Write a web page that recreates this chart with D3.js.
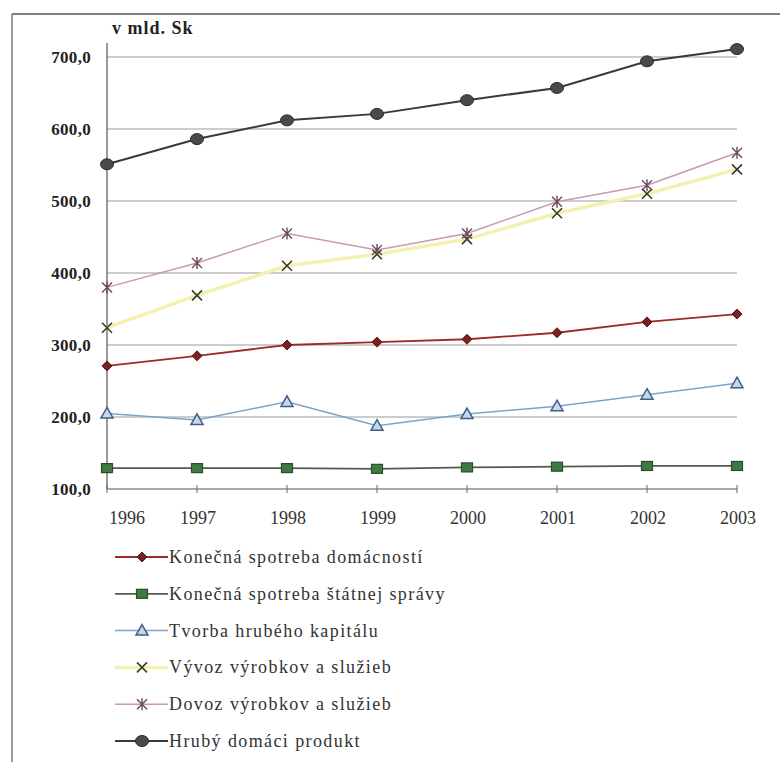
<!DOCTYPE html>
<html>
<head>
<meta charset="utf-8">
<script src="https://cdn.jsdelivr.net/npm/d3@7"></script>
<style>
  html, body { margin: 0; padding: 0; background: #fff; }
  svg { display: block; }
</style>
</head>
<body>
<svg id="chart" width="780" height="762"></svg>
<script>
// Years on the category axis
const years = ["1996", "1997", "1998", "1999", "2000", "2001", "2002", "2003"];

// Series values, mld. Sk
const domacnosti = [271, 285, 300, 304, 308, 317, 332, 343];
const statnaSprava = [129, 129, 129, 128, 130, 131, 132, 132];
const tvorbaKapitalu = [205, 196, 221, 188, 204, 215, 231, 247];
const vyvoz = [324, 369, 410, 426, 447, 483, 510, 544];
const dovoz = [380, 414, 455, 432, 455, 499, 522, 567];
const hdp = [551, 586, 612, 621, 640, 657, 694, 711];

// Axis ticks
const yTicks = [100, 200, 300, 400, 500, 600, 700];
const yTickLabels = ["100,0", "200,0", "300,0", "400,0", "500,0", "600,0", "700,0"];

const seriesNames = [
  "Konečná spotreba domácností",
  "Konečná spotreba štátnej správy",
  "Tvorba hrubého kapitálu",
  "Vývoz výrobkov a služieb",
  "Dovoz výrobkov a služieb",
  "Hrubý domáci produkt"
];

const FONT = "'Liberation Serif', 'DejaVu Serif', 'Times New Roman', serif";

const series = [
  { name: seriesNames[0], values: domacnosti, line: "#9c2a2a", lineW: 1.8, marker: "diamond", fill: "#7a2020", stroke: "#5a1818" },
  { name: seriesNames[1], values: statnaSprava, line: "#4e5e4a", lineW: 1.8, marker: "square", fill: "#3f7a42", stroke: "#2d4a2d" },
  { name: seriesNames[2], values: tvorbaKapitalu, line: "#7aa4cc", lineW: 1.5, marker: "triangle", fill: "#c8d8ea", stroke: "#3f5f86" },
  { name: seriesNames[3], values: vyvoz, line: "#f3f1b0", lineW: 3.5, marker: "cross", fill: "none", stroke: "#3a3a2a" },
  { name: seriesNames[4], values: dovoz, line: "#c89ab2", lineW: 1.5, marker: "star", fill: "none", stroke: "#6a4a58" },
  { name: seriesNames[5], values: hdp, line: "#3a3a3a", lineW: 2, marker: "circle", fill: "#4a4a4a", stroke: "#2a2a2a" }
];

const svg = d3.select("#chart").style("font-family", FONT);

// Frame around the figure (top and left edges)
svg.append("line").attr("x1", 12).attr("y1", 14).attr("x2", 780).attr("y2", 14)
  .attr("stroke", "#555").attr("stroke-width", 1.5);
svg.append("line").attr("x1", 12).attr("y1", 14).attr("x2", 12).attr("y2", 762)
  .attr("stroke", "#777").attr("stroke-width", 1.5);

const x = d3.scalePoint().domain(years).range([107, 737]);
const y = d3.scaleLinear().domain([100, 700]).range([489, 57]);

// Horizontal gridlines
svg.append("g").selectAll("line")
  .data(yTicks.filter(v => v > 100))
  .join("line")
  .attr("x1", x(years[0])).attr("x2", x(years[years.length - 1]))
  .attr("y1", d => y(d)).attr("y2", d => y(d))
  .attr("stroke", "#9a9a9a").attr("stroke-width", 1);

// Y axis
const yAxis = d3.axisLeft(y).tickValues(yTicks)
  .tickFormat((d, i) => yTickLabels[i]).tickSize(0).tickPadding(16);
const gy = svg.append("g").attr("transform", `translate(${x(years[0])},0)`).call(yAxis);
gy.attr("font-family", null);
gy.select(".domain").remove();
gy.selectAll("text")
  .style("font-family", FONT)
  .attr("font-size", 17).attr("font-weight", "bold").attr("fill", "#222")
  .attr("letter-spacing", 0.3);
svg.append("line").attr("x1", x(years[0])).attr("x2", x(years[0]))
  .attr("y1", 43).attr("y2", y(100)).attr("stroke", "#555").attr("stroke-width", 1.2);

svg.append("text").attr("x", 112).attr("y", 34)
  .style("font-family", FONT)
  .attr("font-size", 18).attr("font-weight", "bold").attr("fill", "#222")
  .attr("letter-spacing", 1)
  .text("v mld. Sk");

// X axis with crossing tick marks
svg.append("line").attr("x1", x(years[0])).attr("x2", x(years[years.length - 1]))
  .attr("y1", y(100)).attr("y2", y(100)).attr("stroke", "#555").attr("stroke-width", 1.2);
svg.append("g").selectAll("line").data(years).join("line")
  .attr("x1", d => x(d)).attr("x2", d => x(d))
  .attr("y1", y(100) - 4).attr("y2", y(100) + 4)
  .attr("stroke", "#666").attr("stroke-width", 1);
// first year label starts just right of the value axis, the others are centred
svg.append("g").selectAll("text").data(years).join("text")
  .attr("x", (d, i) => i === 0 ? x(d) + 2 : x(d) + 1)
  .attr("y", 524)
  .style("font-family", FONT)
  .attr("text-anchor", (d, i) => i === 0 ? "start" : "middle")
  .attr("font-size", 18).attr("fill", "#333")
  .text(d => d);

// Marker shapes
function drawMarker(g, type, cx, cy, s) {
  if (type === "diamond") {
    g.append("path").attr("d", `M${cx},${cy - 5}L${cx + 5},${cy}L${cx},${cy + 5}L${cx - 5},${cy}Z`)
      .attr("fill", s.fill).attr("stroke", s.stroke).attr("stroke-width", 1);
  } else if (type === "square") {
    g.append("rect").attr("x", cx - 5.5).attr("y", cy - 4.5).attr("width", 11).attr("height", 9)
      .attr("fill", s.fill).attr("stroke", s.stroke).attr("stroke-width", 1.2);
  } else if (type === "triangle") {
    g.append("path").attr("d", `M${cx},${cy - 6}L${cx + 6},${cy + 4.5}L${cx - 6},${cy + 4.5}Z`)
      .attr("fill", s.fill).attr("stroke", s.stroke).attr("stroke-width", 1.5);
  } else if (type === "cross") {
    g.append("path").attr("d", `M${cx - 5},${cy - 5}L${cx + 5},${cy + 5}M${cx + 5},${cy - 5}L${cx - 5},${cy + 5}`)
      .attr("stroke", s.stroke).attr("stroke-width", 1.6);
  } else if (type === "star") {
    g.append("path").attr("d", `M${cx - 5},${cy - 5}L${cx + 5},${cy + 5}M${cx + 5},${cy - 5}L${cx - 5},${cy + 5}M${cx},${cy - 6}L${cx},${cy + 6}`)
      .attr("stroke", s.stroke).attr("stroke-width", 1.4);
  } else if (type === "circle") {
    g.append("ellipse").attr("cx", cx).attr("cy", cy).attr("rx", 6.5).attr("ry", 5.5)
      .attr("fill", s.fill).attr("stroke", s.stroke).attr("stroke-width", 1);
  }
}

const line = d3.line().x((d, i) => x(years[i])).y(d => y(d));

// Series lines and markers
series.forEach(s => {
  const g = svg.append("g");
  g.append("path").datum(s.values).attr("d", line)
    .attr("fill", "none").attr("stroke", s.line).attr("stroke-width", s.lineW);
  s.values.forEach((v, i) => drawMarker(g, s.marker, x(years[i]), y(v), s));
});

// Legend
const legendY = d3.scalePoint().domain(seriesNames).range([557, 741]);
series.forEach(s => {
  const g = svg.append("g");
  const ly = legendY(s.name);
  g.append("line").attr("x1", 115).attr("x2", 168).attr("y1", ly).attr("y2", ly)
    .attr("stroke", s.line).attr("stroke-width", s.lineW);
  drawMarker(g, s.marker, 142, ly, s);
  g.append("text").attr("x", 169).attr("y", ly + 6)
    .style("font-family", FONT)
    .attr("font-size", 18).attr("letter-spacing", 1.4)
    .attr("fill", "#333").text(s.name);
});
</script>
</body>
</html>
